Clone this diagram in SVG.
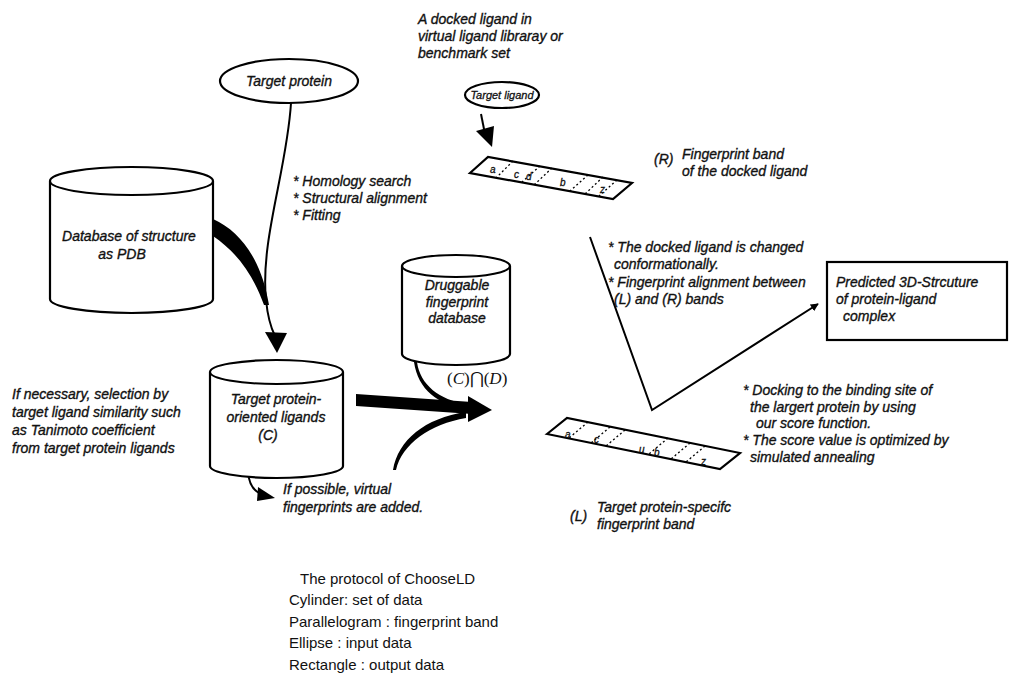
<svg xmlns="http://www.w3.org/2000/svg" width="1017" height="684" viewBox="0 0 1017 684">
<defs>
<style>
.t{font-family:"Liberation Sans",Arial,sans-serif;font-style:italic;font-size:14px;fill:#111;stroke:#111;stroke-width:0.35}
.ts{font-family:"Liberation Sans",Arial,sans-serif;font-style:italic;font-size:11px;fill:#111;stroke:#111;stroke-width:0.3}
.lg{font-family:"Liberation Sans",Arial,sans-serif;font-size:15px;fill:#111}
.sh{fill:#fff;stroke:#000;stroke-width:2.2}
.ln{fill:none;stroke:#000;stroke-width:2}
.blk{fill:#000;stroke:none}
.bl{font-family:"Liberation Sans",Arial,sans-serif;font-style:italic;font-size:10px;fill:#111;stroke:#111;stroke-width:0.3}
.dot{fill:none;stroke:#000;stroke-width:1.3;stroke-dasharray:2 2.5}
</style>
<marker id="ah" viewBox="0 0 10 10" refX="9" refY="5" markerWidth="8" markerHeight="8" markerUnits="userSpaceOnUse" orient="auto">
<path d="M0,0 L10,5 L0,10 Z" fill="#000"/>
</marker>
</defs>
<rect width="1017" height="684" fill="#fff"/>

<g id="connectors">
<path class="ln" d="M291,103 C287,170 260,240 266,300 C268,320 272,330 275,336" stroke-width="3.5"/>
<polygon class="blk" points="265,332 287,333 277,353"/>
<path class="blk" d="M213,219 C242,232 262,262 269,305 L264,305 C252,272 236,252 213,236 Z"/>
<path class="ln" d="M248,471 Q249,490 262,494" stroke-width="2.5"/>
<polygon class="blk" points="258,487 275,498 257,501"/>
<path class="blk" d="M356,394 L472,402 L472,414 L356,406 Z"/>
<polygon class="blk" points="468,396 492,410 468,422"/>
<path class="blk" d="M417,362 C420,385 440,400 466,404 L466,410 C438,404 418,390 414,362 Z"/>
<path class="blk" d="M393,470 C398,440 425,418 466,412 L466,418 C430,424 402,444 396,470 Z"/>
<path class="ln" d="M481,114 L485,134" stroke-width="3"/>
<polygon class="blk" points="476,131 494,126 492,147"/>
<polyline class="ln" points="590,237 652,410 818,304" marker-end="url(#ah)"/>
</g>

<g id="target-protein">
<ellipse class="sh" cx="289" cy="81" rx="69" ry="22"/>
<text class="t" x="289" y="86" text-anchor="middle">Target protein</text>
</g>

<g id="homology-notes">
<text class="t" x="293" y="186">* Homology search</text>
<text class="t" x="293" y="203">* Structural alignment</text>
<text class="t" x="293" y="220">* Fitting</text>
</g>

<g id="database-pdb">
<path class="sh" d="M50,181 A81.5,14 0 0 1 213,181 L213,299 A81.5,14 0 0 1 50,299 Z"/>
<path class="ln" d="M50,181 A81.5,14 0 0 0 213,181"/>
<text class="t" x="129" y="241" text-anchor="middle">Database of structure</text>
<text class="t" x="122" y="259" text-anchor="middle">as PDB</text>
</g>

<g id="selection-note">
<text class="t" x="12" y="399">If necessary, selection by</text>
<text class="t" x="12" y="417">target ligand similarity such</text>
<text class="t" x="12" y="435">as Tanimoto coefficient</text>
<text class="t" x="12" y="453">from target protein ligands</text>
</g>

<g id="target-oriented-ligands">
<path class="sh" d="M210,372 A66.5,12 0 0 1 343,372 L343,466 A66.5,12 0 0 1 210,466 Z"/>
<path class="ln" d="M210,372 A66.5,12 0 0 0 343,372"/>
<text class="t" x="276" y="404" text-anchor="middle">Target protein-</text>
<text class="t" x="276" y="422" text-anchor="middle">oriented  ligands</text>
<text class="t" x="268" y="440" text-anchor="middle">(C)</text>
</g>

<g id="virtual-note">
<text class="t" x="283" y="494">If possible, virtual</text>
<text class="t" x="283" y="512">fingerprints are added.</text>
</g>

<g id="druggable-db">
<path class="sh" d="M402,266 A54,11 0 0 1 510,266 L510,354 A54,11 0 0 1 402,354 Z"/>
<path class="ln" d="M402,266 A54,11 0 0 0 510,266"/>
<text class="t" x="457" y="290" text-anchor="middle">Druggable</text>
<text class="t" x="457" y="307" text-anchor="middle">fingerprint</text>
<text class="t" x="457" y="323" text-anchor="middle">database</text>
</g>

<g id="intersection-label">
<text x="447" y="384" font-family="'Liberation Serif',serif" font-size="17" fill="#111">(<tspan font-style="italic">C</tspan>)⋂(<tspan font-style="italic">D</tspan>)</text>
</g>

<g id="ligand-source-note">
<text class="t" x="418" y="24">A docked ligand in</text>
<text class="t" x="418" y="41">virtual ligand libraray or</text>
<text class="t" x="418" y="58">benchmark set</text>
</g>

<g id="target-ligand">
<ellipse class="sh" cx="502" cy="95" rx="37" ry="13"/>
<text class="ts" x="502" y="99" text-anchor="middle">Target ligand</text>
</g>

<g id="band-r">
<polygon class="sh" points="470,173 488,157 632,183 613,199" stroke-width="2"/>
<path class="dot" d="M513,161 L496,178 M540,166 L522,182 M552,168 L534,185 M588,175 L570,191 M603,177 L585,194 M617,180 L599,196"/>
<text class="bl" x="490" y="173">a</text>
<text class="bl" x="514" y="178">c</text>
<text class="bl" x="526" y="180">d</text>
<text class="bl" x="560" y="186">b</text>
<text class="bl" x="600" y="193">z</text>
<text class="t" x="654" y="164">(R)</text>
<text class="t" x="682" y="159">Fingerprint band</text>
<text class="t" x="682" y="176">of the docked ligand</text>
</g>

<g id="conformation-note">
<text class="t" x="608" y="252">* The docked ligand is changed</text>
<text class="t" x="614" y="269">conformationally.</text>
<text class="t" x="608" y="287">* Fingerprint alignment between</text>
<text class="t" x="614" y="304">(L) and (R) bands</text>
</g>

<g id="predicted-structure">
<rect class="sh" x="827" y="262" width="180" height="78" stroke-width="2"/>
<text class="t" x="836" y="287">Predicted 3D-Strcuture</text>
<text class="t" x="836" y="304">of protein-ligand</text>
<text class="t" x="843" y="321">complex</text>
</g>

<g id="docking-note">
<text class="t" x="743" y="395">* Docking to the binding site of</text>
<text class="t" x="750" y="412">the largert protein by using</text>
<text class="t" x="756" y="428">our score function.</text>
<text class="t" x="743" y="445">* The score value is optimized by</text>
<text class="t" x="750" y="462">simulated annealing</text>
</g>

<g id="band-l">
<polygon class="sh" points="547,434 567,418 740,453 720,469" stroke-width="2"/>
<path class="dot" d="M588,422 L569,438 M610,427 L591,443 M625,430 L606,446 M668,438 L649,454 M690,443 L671,459 M705,446 L686,462"/>
<text class="bl" x="565" y="438">a</text>
<text class="bl" x="594" y="443">c</text>
<text class="bl" x="639" y="453">u</text>
<text class="bl" x="654" y="456">b</text>
<text class="bl" x="701" y="465">z</text>
<text class="t" x="570" y="521">(L)</text>
<text class="t" x="597" y="512">Target protein-specifc</text>
<text class="t" x="597" y="529">fingerprint band</text>
</g>

<g id="legend">
<text class="lg" x="300" y="584">The protocol of ChooseLD</text>
<text class="lg" x="289" y="605">Cylinder: set of data</text>
<text class="lg" x="289" y="627">Parallelogram : fingerprint band</text>
<text class="lg" x="289" y="648">Ellipse : input data</text>
<text class="lg" x="289" y="670">Rectangle : output data</text>
</g>
</svg>
